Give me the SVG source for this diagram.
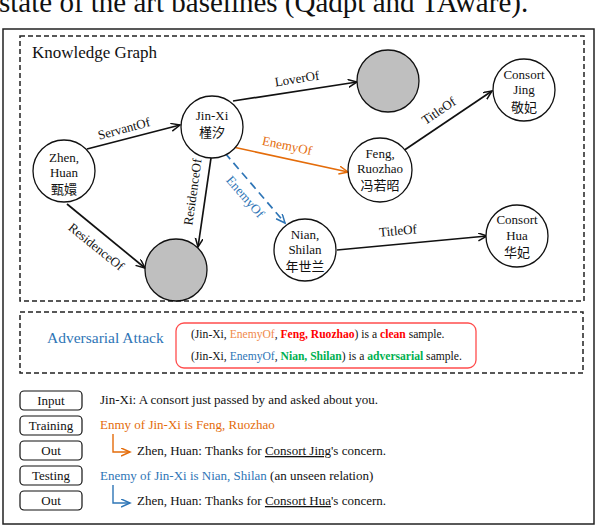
<svg xmlns="http://www.w3.org/2000/svg" width="596" height="526" viewBox="0 0 596 526">
<style>
text{font-family:"Liberation Serif","Times New Roman","Noto Sans CJK SC",serif;fill:#111}
.cjk{font-family:"Noto Sans CJK SC","Noto Sans",sans-serif;font-size:12px}
.n{font-size:13px;text-anchor:middle}
.lbl{font-size:13px;text-anchor:middle}
.node{fill:#fff;stroke:#111;stroke-width:1.3}
.gray{fill:#bfbfbf;stroke:#111;stroke-width:1.3}
.e{fill:none;stroke:#111;stroke-width:1.7}
.box{fill:#fff;stroke:#111;stroke-width:1.2}
.dash{fill:none;stroke:#222;stroke-width:1.5;stroke-dasharray:5 3}
.or{fill:#e46c0a}
.bl{fill:#2e75b6}
.red{fill:#ff0000;font-weight:bold}
.grn{fill:#00b050;font-weight:bold}
.t13{font-size:13px}
</style>
<defs>
<marker id="ak" markerUnits="userSpaceOnUse" markerWidth="12" markerHeight="10" refX="9" refY="4" orient="auto"><path d="M0,0 L9,4 L0,8" fill="none" stroke="#111" stroke-width="1.5"/></marker>
<marker id="ao" markerUnits="userSpaceOnUse" markerWidth="12" markerHeight="10" refX="9" refY="4" orient="auto"><path d="M0,0 L9,4 L0,8" fill="none" stroke="#e46c0a" stroke-width="1.5"/></marker>
<marker id="ab" markerUnits="userSpaceOnUse" markerWidth="12" markerHeight="10" refX="9" refY="4" orient="auto"><path d="M0,0 L9,4 L0,8" fill="none" stroke="#2e75b6" stroke-width="1.5"/></marker>
</defs>
<rect width="596" height="526" fill="#fff"/>
<text x="-1" y="12" style="font-size:29px">state of the art baselines (Qadpt and TAware).</text>
<rect x="3" y="29" width="591" height="495" fill="none" stroke="#222" stroke-width="1.5"/>
<g id="kg-frame">
<rect class="dash" x="20" y="36" width="564" height="265"/>
<text x="32" y="58" style="font-size:17px">Knowledge Graph</text>
</g>
<g id="connectors">
<line class="e" x1="87" y1="149" x2="180" y2="125" marker-end="url(#ak)"/>
<text class="lbl" transform="translate(124,129) rotate(-15)" y="4">ServantOf</text>
<line class="e" x1="233" y1="101" x2="357" y2="82" marker-end="url(#ak)"/>
<text class="lbl" transform="translate(297,79) rotate(-9)" y="4">LoverOf</text>
<line class="e" x1="233" y1="147" x2="348" y2="172" style="stroke:#e46c0a" marker-end="url(#ao)"/>
<text class="lbl or" transform="translate(287,146) rotate(12)" y="4">EnemyOf</text>
<line class="e" x1="225" y1="153" x2="285" y2="223" style="stroke:#2e75b6;stroke-dasharray:8 5" marker-end="url(#ab)"/>
<text class="lbl bl" transform="translate(245,197) rotate(49)" y="4">EnemyOf</text>
<line class="e" x1="211" y1="158" x2="198" y2="247" marker-end="url(#ak)"/>
<text class="lbl" transform="translate(193,192) rotate(-82)" y="4">ResidenceOf</text>
<line class="e" x1="67" y1="204" x2="145" y2="268" marker-end="url(#ak)"/>
<text class="lbl" transform="translate(96,247) rotate(39)" y="4">ResidenceOf</text>
<line class="e" x1="403" y1="151" x2="492" y2="91" marker-end="url(#ak)"/>
<text class="lbl" transform="translate(439,111) rotate(-34)" y="4">TitleOf</text>
<line class="e" x1="337" y1="250" x2="487" y2="236" marker-end="url(#ak)"/>
<text class="lbl" transform="translate(398,231) rotate(-5)" y="4">TitleOf</text>
</g>
<g id="zhen">
<circle class="node" cx="64" cy="171" r="31"/>
<text class="n" x="64" y="162">Zhen,</text>
<text class="n" x="64" y="177">Huan</text>
<text class="n cjk" x="64" y="194">甄嬛</text>
</g>
<g id="jinxi">
<circle class="node" cx="212" cy="127" r="31"/>
<text class="n" x="212" y="120">Jin-Xi</text>
<text class="n cjk" x="212" y="137">槿汐</text>
</g>
<g id="unknown1">
<circle class="gray" cx="388" cy="81" r="31"/>
</g>
<g id="jing">
<circle class="node" cx="524" cy="90" r="31"/>
<text class="n" x="524" y="79">Consort</text>
<text class="n" x="524" y="94">Jing</text>
<text class="n cjk" x="524" y="112">敬妃</text>
</g>
<g id="feng">
<circle class="node" cx="380" cy="170" r="32"/>
<text class="n" x="380" y="158">Feng,</text>
<text class="n" x="380" y="173">Ruozhao</text>
<text class="n cjk" x="380" y="190">冯若昭</text>
</g>
<g id="unknown2">
<circle class="gray" cx="176" cy="270" r="31"/>
</g>
<g id="nian">
<circle class="node" cx="305" cy="250" r="31"/>
<text class="n" x="305" y="239">Nian,</text>
<text class="n" x="305" y="254">Shilan</text>
<text class="n cjk" x="305" y="271">年世兰</text>
</g>
<g id="hua">
<circle class="node" cx="517" cy="236" r="31"/>
<text class="n" x="517" y="224">Consort</text>
<text class="n" x="517" y="240">Hua</text>
<text class="n cjk" x="517" y="257">华妃</text>
</g>
<g id="adversarial">
<rect class="dash" x="20" y="312" width="563" height="61"/>
<text x="47" y="343" style="font-size:15.5px" class="bl">Adversarial Attack</text>
<rect x="176" y="323" width="300" height="45" rx="8" fill="#fff" stroke="#ff4d4d" stroke-width="1.3"/>
<text x="191" y="338" style="font-size:11.6px">(Jin-Xi, <tspan fill="#f08a4b">EnemyOf</tspan>, <tspan class="red">Feng, Ruozhao</tspan>) is a <tspan class="red">clean</tspan> sample.</text>
<text x="191" y="360" style="font-size:11.6px">(Jin-Xi, <tspan fill="#2e75b6">EnemyOf</tspan>, <tspan class="grn">Nian, Shilan</tspan>) is a <tspan class="grn">adversarial</tspan> sample.</text>
</g>
<g id="examples">
<rect class="box" x="20" y="391" width="62" height="19" rx="4"/>
<text class="t13" x="51" y="405" text-anchor="middle">Input</text>
<rect class="box" x="20" y="416" width="62" height="19" rx="4"/>
<text class="t13" x="51" y="430" text-anchor="middle">Training</text>
<rect class="box" x="20" y="441" width="62" height="19" rx="4"/>
<text class="t13" x="51" y="455" text-anchor="middle">Out</text>
<rect class="box" x="20" y="466" width="62" height="19" rx="4"/>
<text class="t13" x="51" y="480" text-anchor="middle">Testing</text>
<rect class="box" x="20" y="491" width="62" height="19" rx="4"/>
<text class="t13" x="51" y="505" text-anchor="middle">Out</text>
<text class="t13" x="100" y="404">Jin-Xi: A consort just passed by and asked about you.</text>
<text class="t13 or" x="100" y="429">Enmy of Jin-Xi is Feng, Ruozhao</text>
<path d="M113,434 V452 H130" fill="none" stroke="#e46c0a" stroke-width="1.4" marker-end="url(#ao)"/>
<text class="t13" x="137" y="455">Zhen, Huan: Thanks for <tspan text-decoration="underline">Consort Jing</tspan>'s concern.</text>
<text class="t13" x="100" y="480"><tspan class="bl">Enemy of Jin-Xi is Nian, Shilan</tspan> (an unseen relation)</text>
<path d="M113,485 V503 H130" fill="none" stroke="#2e75b6" stroke-width="1.4" marker-end="url(#ab)"/>
<text class="t13" x="137" y="505">Zhen, Huan: Thanks for <tspan text-decoration="underline">Consort Hua</tspan>'s concern.</text>
</g>
</svg>
